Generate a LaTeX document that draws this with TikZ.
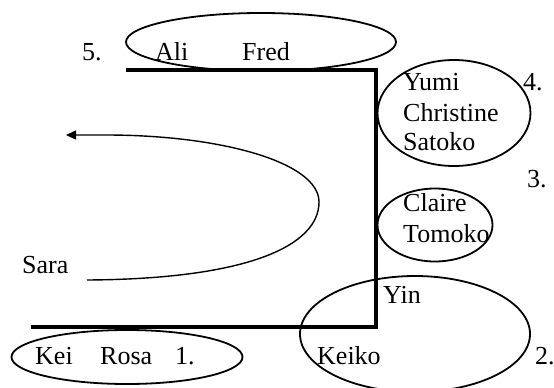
\documentclass[tikz,border=0pt]{standalone}
\usepackage{fontspec}
\setmainfont{Liberation Serif}
\usetikzlibrary{shapes.geometric,arrows.meta}
\begin{document}
\begin{tikzpicture}[x=1pt,y=-1pt,
  lbl/.style={anchor=base west,inner sep=0pt,font=\fontsize{26}{30}\selectfont},
  ring/.style={ellipse,draw,line width=1.8pt,inner sep=0pt},
  wall/.style={line width=4.5pt,line join=miter},
  path/.style={line width=1.4pt,-{Triangle[length=10pt,width=9pt]}}]
\useasboundingbox (0,0) rectangle (554,388);
% ellipses
\node[ring,minimum width=270pt,minimum height=58pt] (e5) at (261,42) {};
\node[ring,minimum width=153pt,minimum height=106pt] (e4) at (454,113) {};
\node[ring,minimum width=115pt,minimum height=73pt] (e3) at (435,225) {};
\node[ring,minimum width=230pt,minimum height=116pt] (e2) at (415,334) {};
\node[ring,minimum width=231pt,minimum height=54pt] (e1) at (127,357) {};
% walls
\coordinate (p1) at (126,70);
\coordinate (p2) at (376,70);
\coordinate (p3) at (376,327);
\coordinate (p4) at (31,327);
\draw[wall] (p1) -- (p2) -- (p3) -- (p4);
% curved arrow
\coordinate (cs) at (87,280);
\coordinate (cm) at (319,202);
\coordinate (ct) at (106,135);
\coordinate (ce) at (66,135);
\draw[path] (cs) .. controls (250,279) and (319,245) .. (cm)
  .. controls (319,162) and (220,135) .. (ct) -- (ce);
% labels
\node[lbl] (n5) at (82,60) {5.};
\node[lbl] (ali) at (155,60) {Ali};
\node[lbl] (fred) at (242,60) {Fred};
\node[lbl] (yumi) at (403,90) {Yumi};
\node[lbl] (chr) at (403,121) {Christine};
\node[lbl] (sat) at (403,150) {Satoko};
\node[lbl] (n4) at (523,90) {4.};
\node[lbl] (n3) at (527,187) {3.};
\node[lbl] (cla) at (403,211) {Claire};
\node[lbl] (tom) at (403,242) {Tomoko};
\node[lbl] (yin) at (383,303) {Yin};
\node[lbl] (sara) at (22,273) {Sara};
\node[lbl] (kei) at (35,364) {Kei};
\node[lbl] (rosa) at (100,364) {Rosa};
\node[lbl] (n1) at (175,364) {1.};
\node[lbl] (keiko) at (317,364) {Keiko};
\node[lbl] (n2) at (535,364) {2.};
\end{tikzpicture}
\end{document}
